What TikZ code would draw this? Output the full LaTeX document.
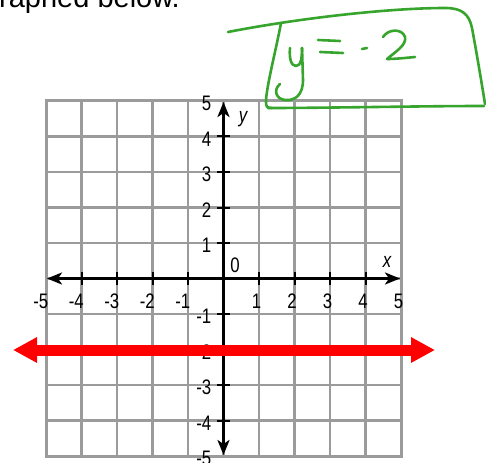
\documentclass[tikz,border=0pt]{standalone}
\usepackage{fontspec}
\setmainfont{Liberation Sans}
\usetikzlibrary{arrows.meta}
\definecolor{gridgray}{RGB}{155,155,155}
\definecolor{handgreen}{RGB}{55,165,45}
\definecolor{linered}{RGB}{255,0,0}
\newcommand{\numtxt}[1]{\fontsize{21}{21}\selectfont\scalebox{0.8}[1]{#1}}
\newcommand{\axtxt}[1]{\fontsize{21}{21}\selectfont\itshape\scalebox{0.8}[1]{#1}}
\begin{document}
\begin{tikzpicture}[x=1pt,y=-1pt,
  gridline/.style={gridgray,line width=2.2pt},
  border/.style={gridgray,line width=3pt},
  axis/.style={black,line width=2.6pt,{Stealth[length=15pt,width=12pt,inset=4pt]}-{Stealth[length=15pt,width=12pt,inset=4pt]}},
  tickmark/.style={black,line width=2pt},
  num/.style={inner sep=0pt},
  hand/.style={handgreen,line width=2.6pt,line cap=round,line join=round},
  redline/.style={linered,line width=11pt,{Triangle[length=24pt,width=24pt]}-{Triangle[length=24pt,width=24pt]}},
  ]
\useasboundingbox (0,0) rectangle (486,462);
\clip (0,0) rectangle (486,462);

% top text (cut off at the top edge, as in the reference)
\node[font=\fontsize{29}{29}\selectfont,inner sep=0pt,anchor=base west] (toptext) at (-1,7.5) {raphed below.};

% grid
\foreach \i in {1,...,9} {
  \draw[gridline] ({46+35.5*\i},101) -- ({46+35.5*\i},456);
  \draw[gridline] (46,{101+35.5*\i}) -- (401,{101+35.5*\i});
}
\draw[border] (46,101) rectangle (401,456);

% axes
\coordinate (xl) at (47,278.5);
\coordinate (xr) at (400,278.5);
\coordinate (yt) at (223.5,102);
\coordinate (yb) at (223.5,455);
\draw[axis] (xl) -- (xr);
\draw[axis] (yt) -- (yb);

% ticks
\foreach \i in {-4,-3,-2,-1,1,2,3,4} {
  \draw[tickmark] ({223.5+35.5*\i},272) -- ({223.5+35.5*\i},285);
  \draw[tickmark] (217,{278.5-35.5*\i}) -- (230,{278.5-35.5*\i});
}

% x labels
\foreach \i in {-5,-4,-3,-2,-1,1,2,3,4,5} {
  \node[num,anchor=base east] (xlab\i) at ({223.5+35.5*\i+2.5},308) {\numtxt{\i}};
}
% y labels
\foreach \i in {-5,-4,-3,-2,-1,1,2,3,4,5} {
  \node[num,anchor=east] (ylab\i) at (211.5,{278.5-35.5*\i+2.5}) {\numtxt{\i}};
}
\node[num] (zero) at (235,265) {\numtxt{0}};
\node[num] (ylabel) at (243,119) {\axtxt{y}};
\node[num] (xlabel) at (387,262) {\axtxt{x}};

% red line y = -2
\coordinate (rl) at (13,350);
\coordinate (rr) at (435,350);
\draw[redline] (rl) -- (rr);

% handwritten green annotation
\draw[hand] (228,32) .. controls (300,18) and (390,8) .. (445,8)
  .. controls (462,8) and (469,14) .. (472,28)
  .. controls (477,55) and (482,85) .. (485,104);
\draw[hand] (484,106) .. controls (420,106) and (330,108) .. (268,108);
\draw[hand] (281,23) .. controls (276,50) and (266,88) .. (266,102)
  .. controls (266,107) and (267,108) .. (272,108);
% y
\draw[hand] (290,48) .. controls (289,58) and (291,66) .. (296,66)
  .. controls (301,66) and (302,58) .. (302,48);
\draw[hand] (302,48) -- (303,80) .. controls (303,95) and (295,101) .. (285,100)
  .. controls (276,99) and (273,90) .. (280,84);
% =
\draw[hand] (318,40) -- (340,41);
\draw[hand] (320,52) -- (343,53);
% -
\draw[hand] (362,49) -- (367,48);
% 2
\draw[hand] (383,37) .. controls (388,29) and (402,28) .. (405,37)
  .. controls (407,45) and (395,52) .. (387,59)
  .. controls (395,59) and (405,58) .. (415,57);
\end{tikzpicture}
\end{document}
